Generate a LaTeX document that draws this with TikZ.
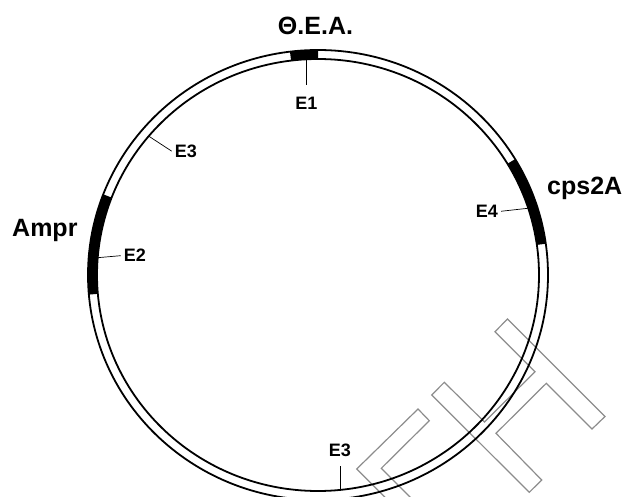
\documentclass[tikz,border=0pt]{standalone}
\usepackage{fontspec}
\setmainfont{Liberation Sans}
\usepackage{tikz}
\usetikzlibrary{positioning,calc}
\tikzstyle{ring}=[draw=black, line width=1.8pt]
\tikzstyle{gene}=[fill=black]
\tikzstyle{tick}=[draw=black, line width=0.7pt]
\tikzstyle{site}=[inner sep=0pt, text=black, font=\fontsize{18}{20}\selectfont\bfseries]
\tikzstyle{genename}=[inner sep=0pt, text=black, font=\fontsize{25}{28}\selectfont\bfseries]
\tikzstyle{stamp}=[draw=black!45, line width=1.2pt, line join=miter]
% black band on the ring, from angle #1 to angle #2
\newcommand{\geneband}[2]{
    \fill[gene] ($(c)+(#1:230pt and 225pt)$)
        arc[start angle=#1, end angle=#2, x radius=230pt, y radius=225pt]
        -- ($(c)+(#2:221pt and 216pt)$)
        arc[start angle=#2, end angle=#1, x radius=221pt, y radius=216pt] -- cycle;
}

\begin{document}
\begin{tikzpicture}[x=1pt, y=1pt]
    \useasboundingbox (0,0) rectangle (626,496);
    \clip (0,0) rectangle (626,496);
    \coordinate (c) at (318,221);

    % grey outlines
    \draw[stamp] (356.7,27) -- (418,87) -- (429.3,75.3) -- (381.3,27.7)
        -- (421.3,-12.3) -- (396.7,-13) -- cycle;
    \draw[stamp] (431.7,101) -- (444.3,113.7) -- (484.5,74) -- (535,124.3)
        -- (495,164.3) -- (507.5,177) -- (605,79.5) -- (592,67)
        -- (546.3,112.7) -- (496,62.7) -- (541.7,16) -- (529.3,3.7) -- cycle;

    % ring
    \geneband{90}{97}
    \geneband{8}{31}
    \geneband{159}{185}
    \draw[ring] (c) ellipse [x radius=230pt, y radius=225pt];
    \draw[ring] (c) ellipse [x radius=221pt, y radius=216pt];

    % sites
    \coordinate (e1) at ($(c)+(93:221pt and 216pt)$);
    \coordinate[below=26pt of e1] (e1end);
    \coordinate (e3a) at ($(c)+(140:221pt and 216pt)$);
    \coordinate[below right=15pt and 23pt of e3a] (e3aend);
    \coordinate (e2) at ($(c)+(175.4:221pt and 216pt)$);
    \coordinate[above right=2pt and 23pt of e2] (e2end);
    \coordinate (e4) at ($(c)+(18:221pt and 216pt)$);
    \coordinate[below left=3pt and 27pt of e4] (e4end);
    \coordinate (e3b) at ($(c)+(275.7:221pt and 216pt)$);
    \coordinate[above=24pt of e3b] (e3bend);

    \draw[tick] (e1) -- (e1end);
    \draw[tick] (e3a) -- (e3aend);
    \draw[tick] (e2) -- (e2end);
    \draw[tick] (e4) -- (e4end);
    \draw[tick] (e3b) -- (e3bend);

    \node(E1)[site, below=12pt of e1end]{E1};
    \node(E3a)[site, right=3pt of e3aend]{E3};
    \node(E2)[site, right=3pt of e2end]{E2};
    \node(E4)[site, left=3pt of e4end]{E4};
    \node(E3b)[site, above=9pt of e3bend]{E3};

    % gene names
    \node(tea)[genename, anchor=base] at (315.5,461) {Θ.Ε.Α.};
    \node(ampr)[genename, anchor=base west] at (12,259) {Ampr};
    \node(cps)[genename, anchor=base west] at (547,301) {cps2A};
\end{tikzpicture}
\end{document}
